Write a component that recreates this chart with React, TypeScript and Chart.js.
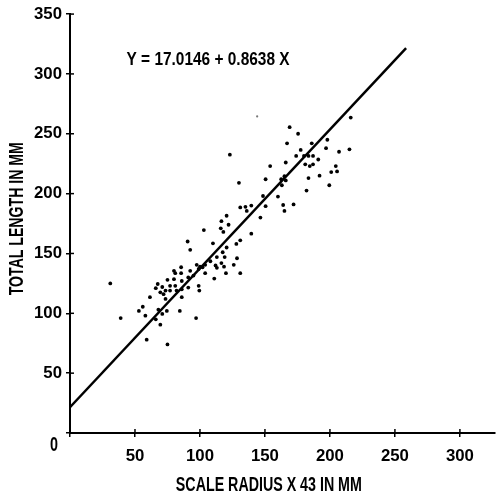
import React, { useEffect, useRef } from 'react';
import { Chart, registerables } from 'chart.js';

Chart.register(...registerables);

const FONT = "'Liberation Sans', Arimo, Roboto, Arial, sans-serif";

const xTickValues = [0, 50, 100, 150, 200, 250, 300];
const yTickValues = [0, 50, 100, 150, 200, 250, 300, 350];

const xTitle = 'SCALE RADIUS X 43 IN MM';
const yTitle = 'TOTAL LENGTH IN MM';
const equationText = 'Y = 17.0146 + 0.8638 X';

// scale radius x 43 (mm)
const radiusX = [
  31, 39, 53, 56, 58, 61.5, 59, 75, 66, 67.5, 71, 73.5, 69.5, 72, 73.5, 75, 77, 77, 80, 80,
  81, 82, 85.5, 85.5, 86, 86, 86, 91, 91, 92.5, 95, 92.5, 90.5, 97.5, 99, 99, 99.5, 100, 102, 104,
  104, 68, 71, 74.5, 66, 69.5, 84.5, 97, 81,
  103, 108, 110, 111, 112, 113, 113, 116, 116.5, 116.5, 117.5, 118, 118.5, 119, 120, 120.5, 120.5, 122, 123, 126,
  128, 128.5, 130, 131, 131, 131, 135, 136, 139.5, 139.5, 146.5, 148.5, 150.5, 150.5, 154, 160, 162.5, 163, 164, 165,
  165, 166, 166, 167, 169, 172, 174, 175.5, 177.5, 180, 181, 182, 183.5, 183.5, 184.5, 186, 187, 187, 191, 192,
  197, 198, 199.5, 201, 204.5, 205.5, 207, 215, 216,
];

// total length (mm)
const lengthY = [
  125, 96, 102, 105.5, 98, 113.5, 78, 74, 121, 124.5, 122, 119, 117.5, 116, 112, 128, 123, 119, 135.5, 128.5,
  123, 119, 138.5, 133.5, 127, 120, 113.5, 130, 121.5, 135.5, 131.5, 153, 160, 140.5, 137, 123, 119, 139, 138.5, 140.5,
  133.5, 103, 99.5, 102, 95, 90.5, 102, 96, 133.5,
  169.5, 143.5, 158.5, 129, 140, 147, 138, 171, 177, 142, 151, 168, 139, 147, 133.5, 181.5, 155, 174, 232.5, 140.5,
  158, 146, 209, 161, 133.5, 188.5, 189, 185.5, 190, 166.5, 180, 198, 212, 189.5, 223, 197.5, 212, 207, 190.5, 214.5,
  185.5, 211, 226, 242, 255.5, 191, 231.5, 250, 236.5, 231.5, 224.5, 202.5, 231.5, 213, 223, 242, 231.5, 224.5, 228.5, 215,
  238, 245, 207, 218, 223, 218.5, 235, 237, 263.5,
];

const faintX = [144];
const faintY = [264.5];

// fitted line as drawn
const lineX = [0, 258.6];
const lineY = [21.5, 321.6];

function fitSize(text: string, width: number, maxSize: number): number {
  const c = document.createElement('canvas');
  const g = c.getContext('2d');
  if (!g) return maxSize;
  g.font = `bold 100px ${FONT}`;
  const w = g.measureText(text).width;
  return Math.min(maxSize, Math.round(((100 * width) / w) * 10) / 10);
}

// draw text squeezed horizontally to a given width (condensed look)
function drawCondensed(ctx: CanvasRenderingContext2D, text: string, cx: number, cy: number, size: number, width: number, angle: number) {
  ctx.save();
  ctx.font = `bold ${size}px ${FONT}`;
  const w = ctx.measureText(text).width;
  ctx.translate(cx, cy);
  ctx.rotate(angle);
  ctx.scale(Math.min(1, width / w), 1);
  ctx.textAlign = 'center';
  ctx.textBaseline = 'middle';
  ctx.fillStyle = '#000';
  ctx.fillText(text, 0, 0);
  ctx.restore();
}

export default function App() {
  const ref = useRef<HTMLCanvasElement | null>(null);
  useEffect(() => {
    document.body.style.margin = '0';
    const canvas = ref.current;
    if (!canvas) return;
    const tickSize = fitSize('100', 28, 20);

    const points = radiusX.map((v, i) => ({ x: v, y: lengthY[i] }));
    const faint = faintX.map((v, i) => ({ x: v, y: faintY[i] }));
    const line = lineX.map((v, i) => ({ x: v, y: lineY[i] }));
    const tickFont = { family: FONT, size: tickSize, weight: 'bold' as const };

    const annotPlugin = {
      id: 'annot',
      afterDraw(chart: any) {
        const { ctx } = chart;
        const x = chart.scales.x;
        const y = chart.scales.y;
        ctx.save();
        ctx.strokeStyle = '#000';
        ctx.lineWidth = 1.5;
        x.ticks.forEach((t: any) => {
          const px = x.getPixelForValue(t.value);
          ctx.beginPath();
          ctx.moveTo(px, y.bottom);
          ctx.lineTo(px, y.bottom - 4);
          ctx.stroke();
        });
        y.ticks.forEach((t: any) => {
          const py = y.getPixelForValue(t.value);
          ctx.beginPath();
          ctx.moveTo(x.left, py);
          ctx.lineTo(x.left + 4, py);
          ctx.stroke();
        });
        ctx.restore();
        drawCondensed(ctx, equationText, x.getPixelForValue(43.5) + 81.5, y.getPixelForValue(311.5), 19, 163, 0);
        drawCondensed(ctx, '0', x.getPixelForValue(0) - 16, y.getPixelForValue(0) + 12, 20, 8, 0);
        drawCondensed(ctx, xTitle, x.getPixelForValue(153), chart.height - 11, 21, 186, 0);
        drawCondensed(ctx, yTitle, 17, y.getPixelForValue(179), 21, 153, -Math.PI / 2);
      },
    };

    const chart = new Chart(canvas, {
      type: 'scatter',
      data: {
        datasets: [
          {
            type: 'line',
            data: line,
            borderColor: '#000',
            borderWidth: 2.5,
            pointRadius: 0,
            fill: false,
          } as any,
          {
            data: points,
            backgroundColor: '#000',
            borderWidth: 0,
            pointRadius: 1.9,
          },
          {
            data: faint,
            backgroundColor: '#777',
            borderWidth: 0,
            pointRadius: 1.1,
          },
        ],
      },
      options: {
        animation: false,
        responsive: false,
        layout: { padding: { top: 14, right: 0, left: 0, bottom: 0 } },
        plugins: { legend: { display: false }, tooltip: { enabled: false } },
        scales: {
          x: {
            type: 'linear',
            min: 0,
            max: 327,
            afterBuildTicks: (s: any) => {
              s.ticks = xTickValues.map((v) => ({ value: v }));
            },
            afterFit: (s: any) => {
              s.height = 63;
            },
            ticks: {
              color: '#000',
              font: tickFont,
              padding: 9,
              maxRotation: 0,
              callback: (v: any) => (v === 0 ? '' : String(v)),
            },
            grid: { drawOnChartArea: false, drawTicks: true, tickLength: 4, color: '#000', lineWidth: 1.5 },
            border: { display: true, color: '#000', width: 2 },
            title: { display: false },
          },
          y: {
            type: 'linear',
            min: 0,
            max: 350,
            afterBuildTicks: (s: any) => {
              s.ticks = yTickValues.map((v) => ({ value: v }));
            },
            afterFit: (s: any) => {
              s.width = 70;
            },
            ticks: {
              color: '#000',
              font: tickFont,
              padding: 4,
              callback: (v: any) => (v === 0 ? '' : String(v)),
            },
            grid: { drawOnChartArea: false, drawTicks: true, tickLength: 4, color: '#000', lineWidth: 1.5 },
            border: { display: true, color: '#000', width: 2 },
            title: { display: false },
          },
        },
      },
      plugins: [annotPlugin],
    });
    return () => chart.destroy();
  }, []);
  return <canvas ref={ref} width={499} height={496} style={{ display: 'block' }} />;
}
